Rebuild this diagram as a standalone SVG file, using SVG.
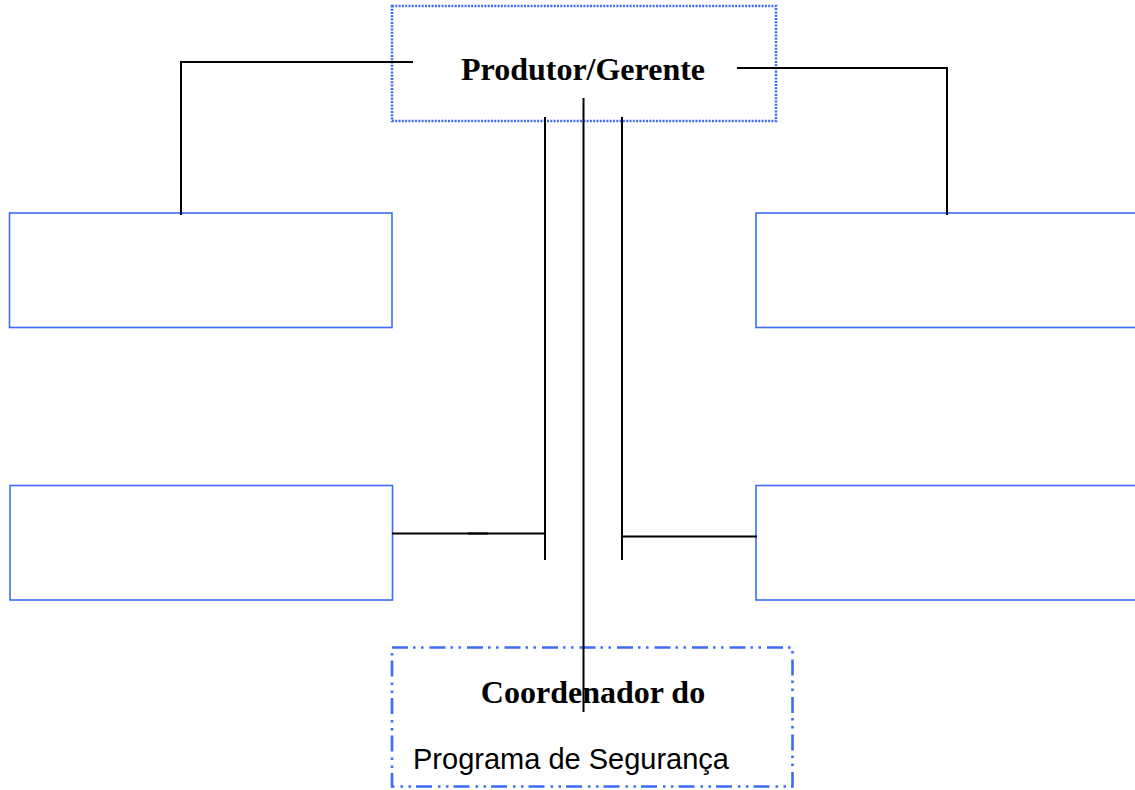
<svg xmlns="http://www.w3.org/2000/svg" width="1135" height="790" viewBox="0 0 1135 790">
<style>
.box{fill:#fff;stroke:#3c6cf5;stroke-width:1.6}
.dot{fill:#fff;stroke:#3c6cf5;stroke-width:2.6;stroke-dasharray:2 1.3}
.dd{fill:#fff;stroke:#3c6cf5;stroke-width:2.6;stroke-dasharray:16 5 2.5 5.5 2.5 6}
.ln{fill:none;stroke:#000;stroke-width:2}
.t1{font-family:"Liberation Serif","Times New Roman",serif;font-weight:bold;font-size:32px;fill:#000}
.t2{font-family:"Liberation Sans",Arial,sans-serif;font-size:29px;fill:#000}
</style>
<rect width="1135" height="790" fill="#fff"/>
<g id="node-produtor">
<rect class="dot" x="392" y="6" width="384" height="115"/>
<text class="t1" x="583" y="80" text-anchor="middle">Produtor/Gerente</text>
</g>
<g id="node-top-left"><rect class="box" x="9.5" y="213" width="382.5" height="114.5"/></g>
<g id="node-top-right"><rect class="box" x="756" y="213" width="385" height="114.5"/></g>
<g id="node-bottom-left"><rect class="box" x="10" y="485.5" width="382.5" height="114.5"/></g>
<g id="node-bottom-right"><rect class="box" x="756" y="485.5" width="385" height="114.5"/></g>
<g id="node-coordenador">
<rect class="dd" x="392" y="647.5" width="400.5" height="139"/>
<text class="t1" x="593" y="703" text-anchor="middle">Coordenador do</text>
<text class="t2" x="413" y="769">Programa de Segurança</text>
</g>
<g id="connectors">
<polyline class="ln" points="413,62 181,62 181,215"/>
<polyline class="ln" points="737,68 947,68 947,215"/>
<line class="ln" x1="545" y1="117" x2="545" y2="560"/>
<line class="ln" x1="583.5" y1="98" x2="583.5" y2="712"/>
<line class="ln" x1="622" y1="117" x2="622" y2="560"/>
<line class="ln" x1="392" y1="533.5" x2="545" y2="533.5"/>
<line class="ln" x1="468" y1="533.5" x2="488" y2="533.5" stroke-width="2.6"/>
<line class="ln" x1="622" y1="536.5" x2="757" y2="536.5"/>
</g>
</svg>
